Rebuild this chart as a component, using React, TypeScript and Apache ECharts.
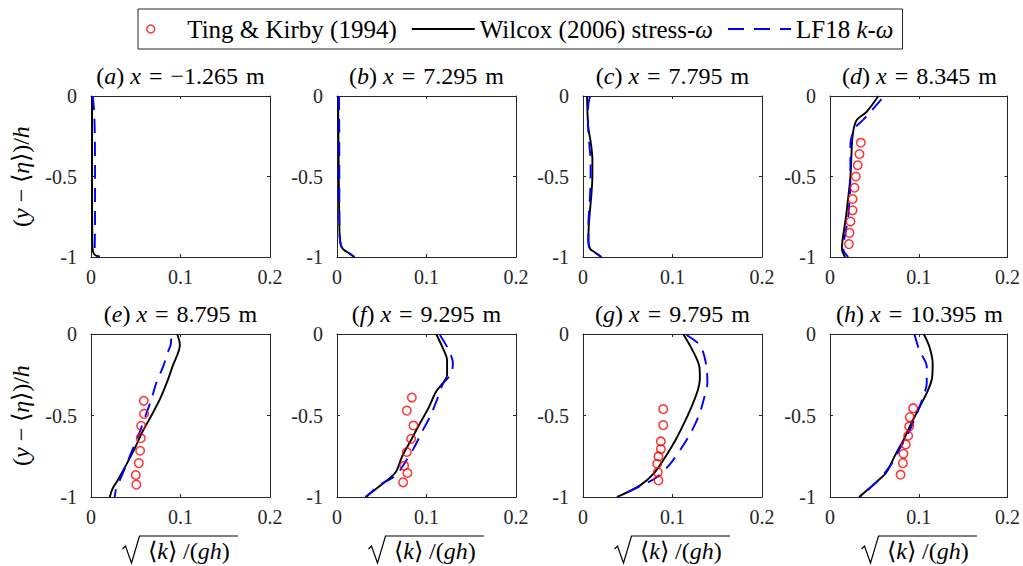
import React, { useEffect, useRef } from 'react';
import * as echarts from 'echarts';

// ---------- data ----------
const panelLetters = ['a', 'b', 'c', 'd', 'e', 'f', 'g', 'h'];
const panelStations = ['−1.265', '7.295', '7.795', '8.345', '8.795', '9.295', '9.795', '10.395'];
const xTicks = [0, 0.1, 0.2];
const yTicks = [-1, -0.5, 0];
const legendNames = ['Ting & Kirby (1994)', 'Wilcox (2006) stress-ω', 'LF18 k-ω'];

const wilcoxA = [[0.0012, 0], [0.0012, -0.3], [0.0012, -0.6], [0.0015, -0.9], [0.002, -0.96], [0.004, -0.985], [0.0095, -1]];
const lf18A = [[0.002, 0], [0.0035, -0.1], [0.0043, -0.25], [0.0045, -0.5], [0.0045, -0.8], [0.0042, -0.95], [0.005, -0.98], [0.0095, -1]];

const wilcoxB = [[0.0012, 0], [0.0015, -0.2], [0.002, -0.5], [0.0025, -0.75], [0.003, -0.87], [0.0045, -0.93], [0.0075, -0.955], [0.013, -0.975], [0.0195, -1]];
const lf18B = [[0.0022, 0], [0.0025, -0.2], [0.0026, -0.5], [0.0027, -0.75], [0.003, -0.87], [0.0045, -0.93], [0.0078, -0.955], [0.0135, -0.975], [0.0195, -1]];

const wilcoxC = [[0.0045, 0], [0.005, -0.1], [0.006, -0.2], [0.009, -0.3], [0.0105, -0.4], [0.0105, -0.5], [0.0095, -0.6], [0.008, -0.7], [0.0065, -0.8], [0.006, -0.9], [0.008, -0.95], [0.013, -0.97], [0.0205, -1]];
const lf18C = [[0.008, 0], [0.006, -0.05], [0.0055, -0.15], [0.007, -0.3], [0.0085, -0.4], [0.0085, -0.5], [0.008, -0.6], [0.007, -0.7], [0.006, -0.8], [0.006, -0.9], [0.008, -0.95], [0.013, -0.97], [0.0205, -1]];

const wilcoxD = [[0.0545, 0], [0.041, -0.1], [0.03, -0.15], [0.0254, -0.25], [0.023, -0.5], [0.018, -0.75], [0.0134, -0.95], [0.017, -1]];
const lf18D = [[0.058, -0.02], [0.0455, -0.1], [0.037, -0.15], [0.028, -0.2], [0.023, -0.3], [0.023, -0.5], [0.0205, -0.75], [0.015, -0.95], [0.0205, -1]];
const tingD = [[0.0347, -0.29], [0.0332, -0.36], [0.0313, -0.43], [0.0291, -0.5], [0.0276, -0.57], [0.0254, -0.64], [0.0254, -0.71], [0.0231, -0.78], [0.022, -0.85], [0.0213, -0.92]];

const wilcoxE = [[0.0963, 0], [0.0993, -0.067], [0.091, -0.2], [0.086, -0.28], [0.077, -0.4], [0.0675, -0.5], [0.0575, -0.6], [0.049, -0.7], [0.0396, -0.8], [0.0295, -0.9], [0.024, -0.95], [0.021, -1]];
const lf18E = [[0.0896, -0.027], [0.089, -0.067], [0.086, -0.11], [0.0806, -0.2], [0.073, -0.3], [0.0675, -0.4], [0.061, -0.5], [0.0545, -0.6], [0.047, -0.7], [0.0396, -0.8], [0.032, -0.9], [0.028, -0.95], [0.0265, -1]];
const tingE = [[0.059, -0.41], [0.0593, -0.49], [0.056, -0.563], [0.0556, -0.639], [0.0549, -0.716], [0.0534, -0.792], [0.05, -0.865], [0.0507, -0.924]];

const wilcoxF = [[0.1108, 0], [0.1175, -0.078], [0.123, -0.16], [0.123, -0.25], [0.11, -0.36], [0.1026, -0.45], [0.0925, -0.55], [0.0828, -0.65], [0.0728, -0.75], [0.0653, -0.85], [0.0485, -0.93], [0.0317, -1]];
const lf18F = [[0.115, -0.006], [0.125, -0.1], [0.1295, -0.18], [0.127, -0.25], [0.119, -0.3], [0.112, -0.4], [0.1045, -0.5], [0.095, -0.6], [0.0858, -0.7], [0.0746, -0.8], [0.0653, -0.87], [0.0466, -0.93], [0.0328, -1]];
const tingF = [[0.0836, -0.39], [0.078, -0.47], [0.0854, -0.561], [0.0828, -0.643], [0.078, -0.724], [0.075, -0.808], [0.0787, -0.853], [0.0739, -0.91]];

const wilcoxG = [[0.112, 0], [0.1224, -0.1], [0.13, -0.2], [0.1306, -0.27], [0.128, -0.35], [0.121, -0.45], [0.1127, -0.55], [0.1034, -0.65], [0.0925, -0.75], [0.08, -0.85], [0.0634, -0.93], [0.038, -1]];
const lf18G = [[0.1157, -0.006], [0.1287, -0.057], [0.1336, -0.1], [0.138, -0.2], [0.139, -0.3], [0.135, -0.4], [0.1295, -0.5], [0.121, -0.6], [0.11, -0.7], [0.097, -0.8], [0.082, -0.88], [0.065, -0.93], [0.038, -1]];
const tingG = [[0.0896, -0.461], [0.0896, -0.559], [0.087, -0.659], [0.087, -0.706], [0.0843, -0.751], [0.0828, -0.796], [0.0836, -0.849], [0.0843, -0.898]];

const wilcoxH = [[0.1056, 0], [0.112, -0.078], [0.1157, -0.18], [0.115, -0.27], [0.11, -0.35], [0.1007, -0.45], [0.0914, -0.55], [0.0828, -0.65], [0.0728, -0.75], [0.0634, -0.85], [0.054, -0.9], [0.0328, -1]];
const lf18H = [[0.095, 0], [0.1007, -0.1], [0.109, -0.2], [0.109, -0.3], [0.104, -0.4], [0.097, -0.5], [0.089, -0.6], [0.079, -0.7], [0.069, -0.8], [0.054, -0.9], [0.0336, -1]];
const tingH = [[0.0937, -0.455], [0.09, -0.51], [0.0892, -0.567], [0.0881, -0.624], [0.0854, -0.678], [0.0828, -0.735], [0.0821, -0.792], [0.0795, -0.863]];

const panels = [
  { wilcox: wilcoxA, lf18: lf18A, ting: [] as number[][] },
  { wilcox: wilcoxB, lf18: lf18B, ting: [] as number[][] },
  { wilcox: wilcoxC, lf18: lf18C, ting: [] as number[][] },
  { wilcox: wilcoxD, lf18: lf18D, ting: tingD },
  { wilcox: wilcoxE, lf18: lf18E, ting: tingE },
  { wilcox: wilcoxF, lf18: lf18F, ting: tingF },
  { wilcox: wilcoxG, lf18: lf18G, ting: tingG },
  { wilcox: wilcoxH, lf18: lf18H, ting: tingH },
];

// ---------- layout / style ----------
const COL_LEFT = [91, 337, 583, 830];
const COL_W = 179;
const ROW_TOP = [96, 334];
const ROW_H = [161, 163];
const SERIF = 'Liberation Serif';
const AXIS_COLOR = '#262626';
const SP = '\u2005';
const MS = '\u2004';
const italic = { fontStyle: 'italic', fontFamily: SERIF };

export default function App() {
  const ref = useRef<HTMLDivElement>(null);

  useEffect(() => {
    const chart = echarts.init(ref.current as HTMLDivElement, null, { renderer: 'svg' });
    const grids: any[] = [];
    const xAxes: any[] = [];
    const yAxes: any[] = [];
    const series: any[] = [];
    const graphics: any[] = [];
    const axisLineStyle = { color: AXIS_COLOR, width: 1 };

    panels.forEach((p, i) => {
      const col = i % 4;
      const row = Math.floor(i / 4);
      const left = COL_LEFT[col];
      const top = ROW_TOP[row];
      const h = ROW_H[row];
      const cx = left + COL_W / 2;
      grids.push({ left, top, width: COL_W, height: h, containLabel: false });

      const xBase = {
        gridIndex: i, type: 'value', min: xTicks[0], max: xTicks[xTicks.length - 1], interval: 0.1,
        axisLine: { show: true, onZero: false, lineStyle: axisLineStyle },
        axisTick: { show: true, inside: true, length: 3, lineStyle: axisLineStyle },
        splitLine: { show: false },
      };
      xAxes.push({
        ...xBase, position: 'bottom',
        axisLabel: { show: true, fontSize: 20, fontFamily: SERIF, color: AXIS_COLOR, margin: 10 },
      });
      xAxes.push({ ...xBase, position: 'top', axisLabel: { show: false } });

      const yBase = {
        gridIndex: i, type: 'value', min: yTicks[0], max: yTicks[yTicks.length - 1], interval: 0.5,
        axisLine: { show: true, onZero: false, lineStyle: axisLineStyle },
        axisTick: { show: true, inside: true, length: 3, lineStyle: axisLineStyle },
        splitLine: { show: false },
      };
      yAxes.push({
        ...yBase, position: 'left',
        axisLabel: { show: true, fontSize: 20, fontFamily: SERIF, color: AXIS_COLOR, margin: 14 },
      });
      yAxes.push({ ...yBase, position: 'right', axisLabel: { show: false } });

      const xi = 2 * i;
      series.push({
        name: legendNames[1], type: 'line', xAxisIndex: xi, yAxisIndex: xi, data: p.wilcox,
        symbol: 'none', smooth: 0.3, lineStyle: { color: '#000000', width: 1.9, type: 'solid' },
        itemStyle: { color: '#000000' }, z: 2,
      });
      series.push({
        name: legendNames[2], type: 'line', xAxisIndex: xi, yAxisIndex: xi, data: p.lf18,
        symbol: 'none', smooth: 0.3, lineStyle: { color: '#0000ff', width: 1.9, type: [14, 9] },
        itemStyle: { color: '#0000ff' }, z: 2,
      });
      if (p.ting.length) {
        series.push({
          name: legendNames[0], type: 'scatter', xAxisIndex: xi, yAxisIndex: xi, data: p.ting,
          symbol: 'circle', symbolSize: 8.5,
          itemStyle: { color: 'transparent', borderColor: '#ff0000', borderWidth: 1.5 }, z: 3,
        });
      }

      graphics.push({
        type: 'text', x: cx, y: top - 20,
        style: {
          text: `({i|${panelLetters[i]}}) {i|x}${MS}=${MS}${panelStations[i]}${MS}m`,
          fontSize: 24, fontFamily: SERIF, fill: '#000', align: 'center', verticalAlign: 'middle',
          rich: { i: { ...italic, fontSize: 24 } },
        },
      });

      if (col === 0) {
        graphics.push({
          type: 'text', x: 21, y: top + h / 2, rotation: Math.PI / 2,
          style: {
            text: `({i|y}${SP}−${SP}⟨{i|η}⟩)/{i|h}`,
            fontSize: 24, fontFamily: SERIF, fill: '#000', align: 'center', verticalAlign: 'middle',
            rich: { i: { ...italic, fontSize: 24 } },
          },
        });
      }

      if (row === 1) {
        const oy = 536;
        graphics.push({
          type: 'polyline',
          shape: { points: [[cx - 58, 549], [cx - 55, 546], [cx - 49, 563], [cx - 41, oy], [cx + 57.5, oy]] },
          style: { stroke: '#000', lineWidth: 1.2, fill: null },
        });
        graphics.push({
          type: 'text', x: cx + 8.5, y: 551,
          style: {
            text: `⟨{i|k}⟩${SP}/({i|gh})`,
            fontSize: 24, fontFamily: SERIF, fill: '#000', align: 'center', verticalAlign: 'middle',
            rich: { i: { ...italic, fontSize: 24 } },
          },
        });
      }
    });

    chart.setOption({
      animation: false,
      backgroundColor: '#ffffff',
      grid: grids,
      xAxis: xAxes,
      yAxis: yAxes,
      series,
      legend: {
        show: true,
        left: 138, top: 9,
        orient: 'horizontal',
        padding: [7, 9, 7, 8],
        borderColor: AXIS_COLOR, borderWidth: 1,
        itemWidth: 63, itemHeight: 8, itemGap: 14,
        lineStyle: { type: [16, 10] },
        data: [
          { name: legendNames[0], icon: 'circle', itemStyle: { color: 'transparent', borderColor: '#ff0000', borderWidth: 1.5 } },
          { name: legendNames[1], itemStyle: { color: 'transparent', borderWidth: 0, opacity: 0 }, lineStyle: { type: 'solid' } },
          { name: legendNames[2], itemStyle: { color: 'transparent', borderWidth: 0, opacity: 0 }, lineStyle: { type: [16, 10] } },
        ],
        formatter: (name: string) => {
          if (name === legendNames[1]) return 'Wilcox (2006) stress-{i|ω}';
          if (name === legendNames[2]) return 'LF18 {i|k}-{i|ω}';
          return name;
        },
        textStyle: {
          fontSize: 25, fontFamily: SERIF, color: '#000', lineHeight: 26,
          rich: { i: { ...italic, fontSize: 25 } },
        },
      },
      graphic: graphics,
    });

    return () => chart.dispose();
  }, []);

  return <div ref={ref} style={{ position: 'fixed', left: 0, top: 0, width: 1023, height: 566 }} />;
}
